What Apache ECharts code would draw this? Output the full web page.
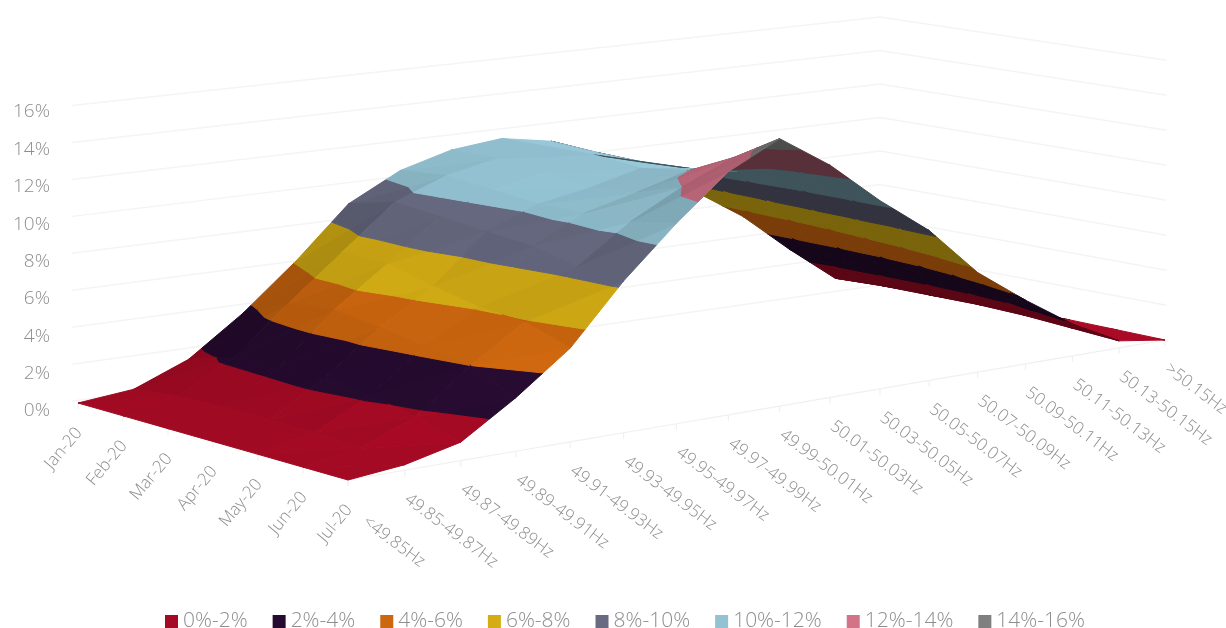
<!DOCTYPE html>
<html><head><meta charset="utf-8">
<style>html,body{margin:0;padding:0;background:#fff}#c{width:1226px;height:628px}</style>
<script src="https://cdn.jsdelivr.net/npm/echarts@6/dist/echarts.min.js"></script>
</head><body><div id="c"></div>
<script>
const months=["Jan-20","Feb-20","Mar-20","Apr-20","May-20","Jun-20","Jul-20"];
const freqBins=["<49.85Hz","49.85-49.87Hz","49.87-49.89Hz","49.89-49.91Hz","49.91-49.93Hz","49.93-49.95Hz","49.95-49.97Hz","49.97-49.99Hz","49.99-50.01Hz","50.01-50.03Hz","50.03-50.05Hz","50.05-50.07Hz","50.07-50.09Hz","50.09-50.11Hz","50.11-50.13Hz","50.13-50.15Hz",">50.15Hz"];
const zTicks=[0,2,4,6,8,10,12,14,16];
const bands=["0%-2%","2%-4%","4%-6%","6%-8%","8%-10%","10%-12%","12%-14%","14%-16%"];
const bandColors=["#a50a24","#260b30","#cc660f","#d4ad14","#686a82","#93c2d2","#d27388","#7f7f7f"];
const backShades=[0.55,0.55,0.6,0.57,0.48,0.43,0.42,0.6];
const jan=[0,0.3,1.5,3.6,6.1,8.9,10.4,11.2,11.5,11.0,9.9,8.4,7.0,5.2,2.9,0.8,0.05];
const feb=[0,0.6,2.3,4.8,7.2,9.6,10.7,11.3,11.6,10.9,9.8,8.5,6.9,5.1,2.9,0.9,0.1];
const mar=[0,0.7,2.4,5.1,7.2,9.4,10.5,11.1,11.7,10.9,9.9,8.5,6.8,5.0,2.9,0.9,0.1];
const apr=[0,0.7,2.5,4.8,6.6,9.2,10.3,10.8,11.5,11.1,10.1,8.5,6.6,4.8,2.8,0.9,0.1];
const may=[0,0.7,2.2,4.4,6.1,9.0,10.4,11.1,11.9,11.5,10.3,8.5,6.4,4.5,2.6,0.8,0.1];
const jun=[0,0.5,1.7,4.0,5.9,8.5,10.5,12.0,13.2,12.3,10.4,8.5,6.1,4.1,2.2,0.6,0.05];
const jul=[0,0.3,1.0,2.9,5.1,8.3,11.0,13.4,14.8,12.9,10.5,8.4,5.6,3.6,1.8,0.4,0];
const surface=[jan,feb,mar,apr,may,jun,jul];

// camera: corners of the floor and px per % at each corner
const A=[78,403],B=[348,480],C=[1165,340],D=[880,285];
const SA=18.5,SB=18.7,SC=17.5,SD=16.75,PERSP=0.12;
const GREY='#8e8e8e',FONT='"Open Sans"';
const lerp=(a,b,t)=>a+(b-a)*t;
function project(m,k,z){
  const u=m/(months.length-1),v=k/(freqBins.length-1),w=v*(1+PERSP)/(1+PERSP*v);
  const x=lerp(lerp(A[0],B[0],u),lerp(D[0],C[0],u),w);
  const y=lerp(lerp(A[1],B[1],u),lerp(D[1],C[1],u),w);
  const s=lerp(lerp(SA,SB,u),lerp(SD,SC,u),w);
  return [x,y-s*z];
}
function clip(tri,lo,hi){
  const cut=(poly,lim,keepAbove)=>{
    const out=[];
    poly.forEach((p,i)=>{
      const q=poly[(i+1)%poly.length];
      const pin=keepAbove?p[2]>=lim:p[2]<=lim, qin=keepAbove?q[2]>=lim:q[2]<=lim;
      if(pin)out.push(p);
      if(pin!==qin){const t=(lim-p[2])/(q[2]-p[2]);out.push([p[0]+(q[0]-p[0])*t,p[1]+(q[1]-p[1])*t,lim]);}
    });
    return out;
  };
  let r=cut(tri,lo,true);
  if(r.length)r=cut(r,hi,false);
  return r;
}
function shadeOf(tri){
  const P=tri.map(p=>project(p[0],p[1],p[2]));
  const cross=(P[1][0]-P[0][0])*(P[2][1]-P[0][1])-(P[1][1]-P[0][1])*(P[2][0]-P[0][0]);
  const a=[tri[1][0]-tri[0][0],tri[1][1]-tri[0][1],tri[1][2]-tri[0][2]];
  const b=[tri[2][0]-tri[0][0],tri[2][1]-tri[0][1],tri[2][2]-tri[0][2]];
  const n=[a[1]*b[2]-a[2]*b[1],a[2]*b[0]-a[0]*b[2],a[0]*b[1]-a[1]*b[0]];
  return {cross,dzdm:-n[0]/n[2],dzdk:-n[1]/n[2]};
}
const pieces=bands.map(()=>[]);
let order=0;
const refCross=Math.sign(shadeOf([[0,0,0],[1,0,0],[1,1,0]]).cross);
for(let m=0;m<months.length-1;m++){
  for(let k=freqBins.length-2;k>=0;k--){
    const g=(mm,kk)=>[mm,kk,surface[mm][kk]];
    const tris=[[g(m,k),g(m+1,k),g(m+1,k+1)],[g(m,k),g(m+1,k+1),g(m,k+1)]];
    tris.forEach(tri=>{
      const s=shadeOf(tri);
      const back=Math.sign(s.cross)!==refCross||(k>=9&&s.dzdk<-0.75);
      const shade=Math.max(0.8,Math.min(1.08,1.0-0.09*s.dzdm-0.035*s.dzdk));
      order++;
      bands.forEach((_,b)=>{
        const poly=clip(tri,b*2,(b+1)*2);
        if(poly.length>=3)pieces[b].push({poly,shade:back?backShades[b]:shade,order});
      });
    });
  }
}
function tint(hex,f){
  const c=[1,3,5].map(i=>parseInt(hex.substr(i,2),16));
  return 'rgb('+c.map(v=>Math.round(Math.max(0,Math.min(255,v*f)))).join(',')+')';
}
const bandSeries=bands.map((name,b)=>({
  name,type:'custom',coordinateSystem:'cartesian2d',silent:true,animation:false,clip:false,
  itemStyle:{color:bandColors[b]},
  data:pieces[b].map((_,i)=>[i]),
  encode:{x:0,y:0},
  renderItem:(params,api)=>{
    const p=pieces[b][api.value(0)];
    const col=tint(bandColors[b],p.shade);
    return {type:'polygon',z2:10+p.order,
      shape:{points:p.poly.map(q=>api.coord(project(q[0],q[1],q[2])))},
      style:{fill:col,stroke:col,lineWidth:1,lineJoin:'round'}};
  }
}));
const wallSeries={
  name:'walls',type:'custom',coordinateSystem:'cartesian2d',silent:true,animation:false,clip:false,z:1,
  data:zTicks.map((_,i)=>[i]),encode:{x:0,y:0},
  renderItem:(params,api)=>{
    const z=zTicks[api.value(0)],M=months.length-1,K=freqBins.length-1;
    const pts=[project(-0.13,0,z),project(0,K,z),project(M+0.03,K,z)].map(p=>api.coord(p));
    return {type:'polyline',shape:{points:pts},style:{stroke:'#f4f4f4',lineWidth:1.5,fill:null}};
  }
};
const floorSeries={
  name:'floor',type:'custom',coordinateSystem:'cartesian2d',silent:true,animation:false,clip:false,z:1,
  data:freqBins.map((_,i)=>[i]).concat(months.map((_,i)=>[100+i])),encode:{x:0,y:0},
  renderItem:(params,api)=>{
    const v=api.value(0),M=months.length-1,K=freqBins.length-1;
    const p=v>=100?project(v-100,0,0):project(M,v,0);
    const a=api.coord(p),b=api.coord([p[0],p[1]+6]);
    const ch=[{type:'line',shape:{x1:a[0],y1:a[1],x2:b[0],y2:b[1]},style:{stroke:'#f0f0f0',lineWidth:1.2}}];
    if(v<K){const n=api.coord(project(M,v+1,0));ch.push({type:'line',shape:{x1:a[0],y1:a[1],x2:n[0],y2:n[1]},style:{stroke:'#f0f0f0',lineWidth:1.2}});}
    return {type:'group',children:ch};
  }
};
const textStyle=(text,align,size)=>({text,fill:GREY,fontSize:size,fontWeight:300,fontFamily:FONT,align,verticalAlign:'middle'});
const yLabelSeries={
  name:'yLabels',type:'custom',coordinateSystem:'cartesian2d',silent:true,animation:false,clip:false,
  data:zTicks.map((_,i)=>[i]),encode:{x:0,y:0},
  renderItem:(params,api)=>{
    const z=zTicks[api.value(0)];
    const c=api.coord([50,411-z*18.69]);
    return {type:'text',x:c[0],y:c[1],style:textStyle(z+'%','right',19)};
  }
};
const monthLabelSeries={
  name:'monthLabels',type:'custom',coordinateSystem:'cartesian2d',silent:true,animation:false,clip:false,
  data:months.map((_,i)=>[i]),encode:{x:0,y:0},
  renderItem:(params,api)=>{
    const i=api.value(0),p=project(i,0,0),c=api.coord([p[0]+1,p[1]+27]);
    return {type:'text',x:c[0],y:c[1],rotation:50*Math.PI/180,style:textStyle(months[i],'right',17)};
  }
};
const freqLabelSeries={
  name:'freqLabels',type:'custom',coordinateSystem:'cartesian2d',silent:true,animation:false,clip:false,
  data:freqBins.map((_,i)=>[i]),encode:{x:0,y:0},
  renderItem:(params,api)=>{
    const i=api.value(0),p=project(months.length-1,i,0);
    const c=api.coord(i===0?[p[0]+17,p[1]+40]:[p[0]+2,p[1]+27]);
    return {type:'text',x:c[0],y:c[1],rotation:-37*Math.PI/180,style:textStyle(freqBins[i],'left',17)};
  }
};
const chart=echarts.init(document.getElementById('c'),null,{renderer:'canvas'});
chart.setOption({
  animation:false,backgroundColor:'#fff',
  grid:{left:0,right:0,top:0,bottom:0},
  xAxis:{type:'value',min:0,max:1226,show:false},
  yAxis:{type:'value',min:0,max:628,inverse:true,show:false},
  legend:{data:bands,top:606,left:160,icon:'rect',itemWidth:13,itemHeight:13,itemGap:25,selectedMode:false,
    textStyle:{color:GREY,fontSize:21,fontWeight:300,fontFamily:FONT}},
  series:[wallSeries,floorSeries,yLabelSeries,monthLabelSeries,freqLabelSeries].concat(bandSeries)
});
</script></body></html>
